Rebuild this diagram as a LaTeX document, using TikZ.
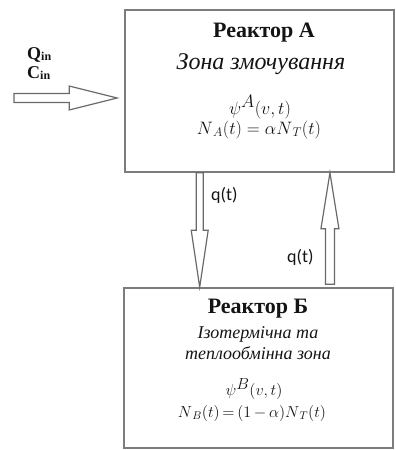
\documentclass[tikz,border=0pt]{standalone}
\usepackage{fix-cm}
\usepackage{fontspec}
\setmainfont{Liberation Serif}
\newfontfamily\flowfont{Carlito}
\usetikzlibrary{calc}
\definecolor{boxline}{HTML}{7C7C7C}
\definecolor{arrowline}{HTML}{6A6A6A}
\definecolor{inkdark}{HTML}{141414}
% hollow block arrow: tail, tip, shaft half width, head half width, head length
\newcommand{\hollowarrow}[5]{%
  \coordinate (neck) at ($(#2)!#5!(#1)$);
  \draw[hollow] ($(#1)!#3!90:(#2)$) -- ($(neck)!#3!-90:(#1)$)
    -- ($(neck)!#4!-90:(#1)$) -- (#2) -- ($(neck)!#4!90:(#1)$)
    -- ($(neck)!#3!90:(#1)$) -- ($(#1)!#3!-90:(#2)$) -- cycle;
}

\begin{document}
\begin{tikzpicture}[
  x=1pt,
  y=-1pt,
  every node/.style={inner sep=0pt, inkdark},
  reactor/.style={draw=boxline, line width=1.6pt, minimum width=269pt},
  reactortitle/.style={font=\fontsize{22}{26}\selectfont\bfseries},
  zone/.style={font=\fontsize{18}{21}\selectfont\itshape},
  bigzone/.style={font=\fontsize{24}{28}\selectfont\itshape},
  formula/.style={font=\fontsize{18}{21}\selectfont},
  smallformula/.style={font=\fontsize{16}{19}\selectfont},
  flowlabel/.style={font=\fontsize{18}{22}\selectfont\flowfont},
  inlabel/.style={font=\fontsize{18}{22}\selectfont\bfseries},
  hollow/.style={draw=arrowline, line width=1.2pt, line join=miter, fill=white}
]
  % ---- page frame ----
  \useasboundingbox (0,0) rectangle (396,450);

  % ---- reactor A ----
  \node[reactor, minimum height=162pt] (boxA) at (259.5,91) {};
  \node[reactortitle, anchor=base] (titleA) at (264,37) {Реактор А};
  \node[bigzone, anchor=base] (zoneA) at (261,69) {Зона змочування};
  \node[formula, anchor=base] (psiA) at (260,114) {$\psi^{\textstyle A}(v,t)$};
  \node[formula, anchor=base] (numA) at (259,134) {$N_{\,A}(t) = \alpha N_{\,T}(t)$};

  % ---- reactor B ----
  \node[reactor, minimum height=160pt] (boxB) at (258.5,368) {};
  \node[reactortitle, anchor=base] (titleB) at (258,313) {Реактор Б};
  \node[zone, anchor=base] (zoneB1) at (258,338) {Ізотермічна та};
  \node[zone, anchor=base] (zoneB2) at (258,359) {теплообмінна зона};
  \node[smallformula, anchor=base] (psiB) at (254,395) {$\psi^{\textstyle B}(v,t)$};
  \node[smallformula, anchor=base] (numB) at (252,417)
    {$N_{\,B}(t)\,{=}\,(1\,{-}\,\alpha) N_{\,T}(t)$};

  % ---- inflow ----
  \coordinate (in tail) at (14,98);
  \coordinate (in tip) at ($(boxA.west |- in tail)+(-7,0)$);
  \hollowarrow{in tail}{in tip}{4.5pt}{12pt}{48pt}
  \node[inlabel, anchor=base west] (qin) at (27,59)
    {Q\raisebox{-1.5pt}{\fontsize{12}{14}\selectfont in}};
  \node[inlabel, anchor=base west] (cin) at (27,78)
    {C\raisebox{-1.5pt}{\fontsize{12}{14}\selectfont in}};

  % ---- exchange between the reactors ----
  \coordinate (down top) at ($(boxA.south west)!0.279!(boxA.south east)$);
  \coordinate (down bottom) at (down top |- boxB.north);
  \hollowarrow{down top}{down bottom}{3.5pt}{8.5pt}{57pt}
  \coordinate (up bottom) at ($(boxB.north west)!0.764!(boxB.north east)+(0,-3)$);
  \coordinate (up top) at (up bottom |- boxA.south);
  \hollowarrow{up bottom}{up top}{4.5pt}{9pt}{56pt}

  \node[flowlabel, anchor=base west] (qdown) at (211,200) {q(t)};
  \node[flowlabel, anchor=base west] (qup) at (287,262) {q(t)};
\end{tikzpicture}
\end{document}
